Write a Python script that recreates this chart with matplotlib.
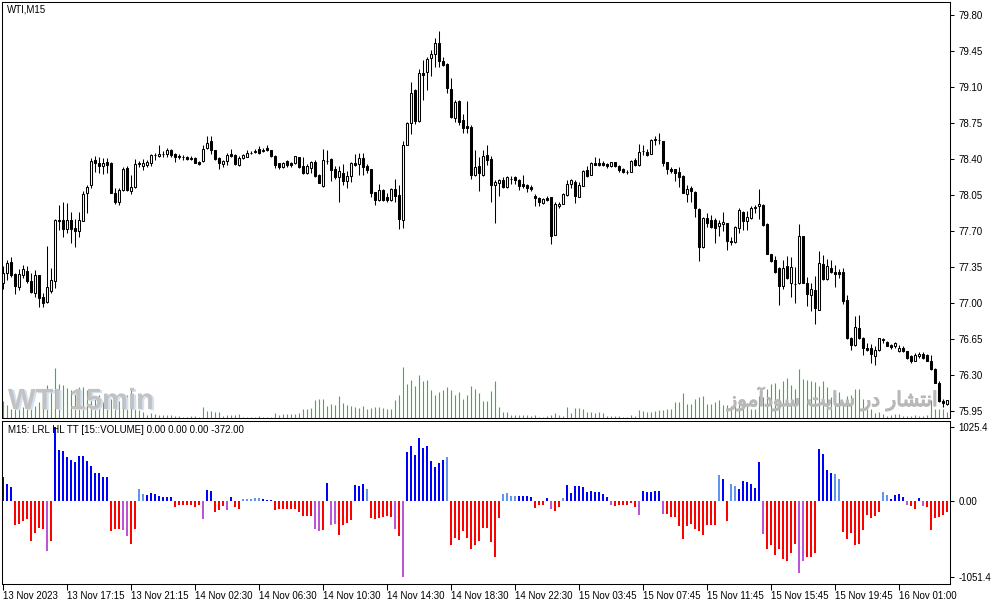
import matplotlib
matplotlib.use('Agg')
import matplotlib.pyplot as plt
import matplotlib.patheffects as pe
from matplotlib.patches import Rectangle
import numpy as np

plt.rcParams['font.family'] = ['Liberation Sans', 'DejaVu Sans']

# ---------------- data ----------------
opens = [77.19,77.29,77.40,77.28,77.16,77.27,77.31,77.21,77.10,77.27,
         77.06,77.01,77.12,77.21,77.81,77.81,77.72,77.81,77.73,77.70,
         77.80,78.07,78.15,78.39,78.36,78.33,78.37,78.36,78.07,77.98,
         78.10,78.31,78.09,78.13,78.35,78.33,78.34,78.36,78.44,78.43,
         78.45,78.45,78.49,78.45,78.43,78.42,78.42,78.41,78.41,78.37,
         78.38,78.51,78.57,78.49,78.41,78.35,78.38,78.45,78.44,78.34,
         78.41,78.42,78.46,78.47,78.50,78.48,78.51,78.49,78.43,78.36,
         78.32,78.38,78.36,78.36,78.42,78.33,78.26,78.31,78.37,78.24,
         78.14,78.38,78.40,78.30,78.22,78.26,78.19,78.23,78.36,78.35,
         78.41,78.33,78.30,78.08,78.00,78.10,78.03,78.00,78.11,78.05,
         77.81,78.54,78.75,79.07,78.77,79.24,79.25,79.38,79.42,79.53,
         79.35,79.32,79.08,78.80,78.96,78.78,78.72,78.71,78.24,78.33,
         78.24,78.44,78.40,78.15,78.17,78.20,78.13,78.21,78.22,78.20,
         78.16,78.15,78.13,78.04,78.02,77.97,78.02,78.03,77.66,77.94,
         77.96,78.05,78.16,78.18,78.03,78.14,78.29,78.24,78.36,78.36,
         78.36,78.35,78.33,78.37,78.33,78.30,78.27,78.27,78.39,78.34,
         78.48,78.47,78.45,78.58,78.58,78.57,78.37,78.30,78.30,78.27,
         78.23,78.06,78.12,78.08,77.91,77.54,77.83,77.81,77.81,77.75,
         77.77,77.78,77.60,77.59,77.73,77.88,77.80,77.83,77.92,77.94,
         77.95,77.77,77.48,77.42,77.34,77.17,77.36,77.19,77.18,77.19,
         77.65,77.19,77.08,77.13,76.93,77.38,77.23,77.34,77.30,77.30,
         77.30,77.03,76.66,76.59,76.76,76.66,76.56,76.56,76.48,76.54,
         76.65,76.62,76.59,76.58,76.53,76.56,76.53,76.48,76.44,76.48,
         76.50,76.49,76.44,76.36,76.22,76.05,76.02]

highs = [77.36,77.42,77.45,77.29,77.33,77.37,77.36,77.29,77.32,77.27,
         77.10,77.55,77.34,77.82,77.95,77.98,77.97,77.88,77.82,77.88,
         78.09,78.15,78.41,78.43,78.42,78.41,78.41,78.37,78.12,78.12,
         78.32,78.33,78.24,78.40,78.38,78.40,78.39,78.45,78.46,78.54,
         78.48,78.51,78.50,78.46,78.45,78.44,78.43,78.43,78.42,78.38,
         78.54,78.62,78.62,78.49,78.42,78.39,78.46,78.50,78.45,78.43,
         78.45,78.49,78.48,78.50,78.53,78.51,78.54,78.49,78.44,78.36,
         78.37,78.39,78.37,78.43,78.42,78.42,78.35,78.38,78.39,78.25,
         78.50,78.49,78.41,78.33,78.33,78.35,78.28,78.37,78.45,78.46,
         78.46,78.35,78.30,78.08,78.16,78.11,78.07,78.12,78.21,78.15,
         78.57,78.76,79.15,79.08,79.27,79.36,79.39,79.46,79.58,79.64,
         79.39,79.33,79.19,78.97,78.97,78.84,78.96,78.73,78.49,78.42,
         78.49,78.54,78.43,78.20,78.21,78.22,78.23,78.23,78.23,78.21,
         78.24,78.16,78.15,78.06,78.03,78.02,78.04,78.03,77.98,77.98,
         78.07,78.20,78.21,78.20,78.18,78.29,78.33,78.37,78.42,78.41,
         78.38,78.36,78.37,78.37,78.34,78.31,78.29,78.39,78.41,78.55,
         78.54,78.50,78.59,78.62,78.65,78.57,78.37,78.32,78.30,78.32,
         78.24,78.15,78.14,78.09,77.92,77.84,77.87,77.86,77.83,77.81,
         77.88,77.78,77.64,77.75,77.92,77.89,77.89,77.94,77.95,78.11,
         77.96,77.78,77.48,77.46,77.35,77.42,77.46,77.45,77.35,77.77,
         77.65,77.25,77.19,77.26,77.51,77.47,77.43,77.42,77.37,77.33,
         77.34,77.08,76.67,76.87,76.88,76.67,76.61,76.60,76.58,76.66,
         76.66,76.63,76.60,76.62,76.59,76.58,76.53,76.49,76.51,76.52,
         76.52,76.50,76.49,76.37,76.24,76.07,76.06]

lows = [77.14,77.22,77.25,77.09,77.13,77.24,77.19,77.10,77.06,76.96,
        76.96,77.00,77.10,77.15,77.71,77.64,77.68,77.58,77.54,77.64,
        77.80,77.87,78.12,78.27,78.26,78.25,78.26,78.07,77.96,77.95,
        78.09,78.09,78.06,78.12,78.32,78.29,78.32,78.33,78.39,78.42,
        78.42,78.42,78.42,78.37,78.40,78.39,78.39,78.39,78.36,78.34,
        78.37,78.50,78.45,78.39,78.30,78.32,78.34,78.42,78.34,78.33,
        78.40,78.42,78.45,78.46,78.45,78.47,78.48,78.42,78.31,78.30,
        78.31,78.32,78.32,78.35,78.31,78.25,78.25,78.26,78.22,78.17,
        78.13,78.35,78.19,78.21,77.98,78.15,78.12,78.18,78.33,78.24,
        78.24,78.26,78.03,77.95,77.99,77.99,77.98,77.99,77.98,77.72,
        77.73,78.54,78.64,78.74,78.76,78.97,79.07,79.21,79.29,79.29,
        79.30,79.04,78.80,78.76,78.73,78.65,78.65,78.21,78.23,78.09,
        78.23,78.34,77.98,77.78,78.04,78.12,78.12,78.16,78.16,78.10,
        78.12,78.08,78.09,77.94,77.94,77.96,77.99,77.57,77.66,77.92,
        77.96,78.04,78.12,77.97,78.03,78.14,78.22,78.24,78.34,78.33,
        78.33,78.31,78.32,78.32,78.27,78.26,78.25,78.27,78.33,78.33,
        78.44,78.43,78.45,78.54,78.55,78.33,78.25,78.26,78.19,78.13,
        78.07,77.98,77.98,77.84,77.41,77.53,77.74,77.73,77.58,77.65,
        77.70,77.52,77.56,77.58,77.68,77.71,77.71,77.82,77.87,77.82,
        77.75,77.48,77.40,77.29,76.98,77.14,77.23,77.06,77.00,77.18,
        77.19,76.97,76.92,76.80,76.93,77.22,77.22,77.29,77.16,77.24,
        76.99,76.65,76.54,76.58,76.65,76.49,76.53,76.42,76.40,76.53,
        76.61,76.58,76.55,76.56,76.52,76.52,76.46,76.42,76.44,76.47,
        76.46,76.44,76.35,76.22,76.04,75.99,76.01]

closes = [77.29,77.39,77.27,77.17,77.28,77.33,77.21,77.11,77.27,77.05,
          77.00,77.16,77.22,77.81,77.80,77.72,77.81,77.72,77.70,77.81,
          78.06,78.13,78.38,78.36,78.33,78.36,78.34,78.07,77.98,78.10,
          78.30,78.10,78.13,78.35,78.36,78.36,78.37,78.44,78.44,78.45,
          78.45,78.49,78.44,78.42,78.42,78.42,78.40,78.40,78.36,78.35,
          78.50,78.56,78.49,78.40,78.36,78.38,78.44,78.43,78.35,78.41,
          78.44,78.46,78.46,78.48,78.46,78.49,78.49,78.43,78.34,78.32,
          78.36,78.34,78.34,78.43,78.32,78.26,78.33,78.37,78.23,78.17,
          78.39,78.38,78.29,78.22,78.28,78.19,78.23,78.36,78.34,78.41,
          78.32,78.29,78.07,78.00,78.10,78.00,78.00,78.11,78.04,77.82,
          78.54,78.75,79.04,78.77,79.24,79.22,79.37,79.42,79.53,79.35,
          79.31,79.09,78.81,78.95,78.76,78.70,78.70,78.24,78.32,78.26,
          78.43,78.39,78.15,78.18,78.20,78.13,78.22,78.21,78.20,78.14,
          78.14,78.12,78.11,78.02,77.98,78.01,78.00,77.65,77.96,77.96,
          78.06,78.16,78.20,78.04,78.15,78.28,78.23,78.36,78.34,78.34,
          78.34,78.33,78.37,78.33,78.29,78.27,78.27,78.38,78.34,78.47,
          78.48,78.44,78.58,78.59,78.58,78.36,78.30,78.28,78.26,78.22,
          78.07,78.11,78.09,77.92,77.54,77.83,77.78,77.74,77.73,77.78,
          77.79,77.60,77.59,77.74,77.90,77.80,77.84,77.92,77.93,77.96,
          77.76,77.48,77.41,77.30,77.17,77.34,77.24,77.35,77.18,77.65,
          77.19,77.09,77.14,76.95,77.39,77.23,77.36,77.30,77.28,77.28,
          77.02,76.66,76.59,76.77,76.66,76.56,76.54,76.50,76.54,76.66,
          76.64,76.58,76.57,76.61,76.56,76.53,76.47,76.44,76.49,76.50,
          76.47,76.44,76.36,76.22,76.05,76.03,76.06]

volumes = [500,380,280,430,430,330,330,760,350,480,
           530,980,780,1500,1030,1000,900,830,800,920,
           920,830,680,580,680,480,580,560,500,500,
           530,680,830,530,230,180,100,160,130,80,
           80,80,80,50,50,40,30,50,50,30,
           330,200,200,180,180,60,100,80,80,110,
           30,30,30,30,50,30,30,30,150,100,
           120,120,120,120,150,260,260,300,530,560,
           560,360,430,400,660,450,400,360,330,310,
           350,280,300,330,330,300,280,280,530,680,
           1530,1010,1130,950,1280,1100,1130,830,700,780,
           830,920,850,700,780,580,700,950,860,760,
           500,500,800,1100,330,180,180,80,80,100,
           80,80,60,100,30,30,60,100,160,80,
           50,330,160,300,300,280,180,180,160,180,
           160,50,50,50,50,30,30,80,50,230,
           210,180,180,210,230,230,280,280,480,480,
           750,430,430,580,630,660,430,430,480,550,
           380,380,360,380,430,530,380,280,280,660,
           630,880,1030,1060,880,1100,1200,1000,880,1480,
           1160,1130,1100,1080,950,1100,930,630,730,780,
           480,660,700,860,860,580,280,260,160,180,
           130,60,100,130,130,60,50,50,80,60,
           60,80,530,280,260,260,180]

osc_values = [332,240,194,-337,-323,-282,-254,-559,-448,-369,
              -392,-697,-559,1025.4,702,693,609,572,540,623,
              623,549,480,383,383,328,328,-420,-383,-383,
              -397,-485,-596,-392,162,102,78,115,102,65,
              51,51,51,-78,-60,-60,-60,-60,-78,-51,
              -249,148,134,-152,-129,-74,-129,51,-83,-111,
              23,23,23,37,37,23,18,18,-125,-106,
              -106,-106,-106,-115,-152,-208,-208,-208,-388,-416,
              -402,245,-337,-323,-466,-337,-305,-268,217,203,
              231,171,-235,-254,-235,-226,-212,-222,-392,-485,
              -1051.4,679,757,633,873,734,757,554,466,526,
              563,605,-614,-512,-536,-416,-508,-660,-614,-554,
              -374,-374,-568,-776,-231,102,115,69,69,65,
              65,65,51,-97,-60,-60,37,-115,-143,-83,
              37,217,106,203,203,189,120,134,120,129,
              97,51,-60,-74,-60,-51,-51,-20,-83,-199,
              134,120,125,143,143,-185,-185,-222,-222,-351,
              -531,-351,-314,-392,-420,-476,-328,-337,-337,356,
              300,-282,231,203,162,272,259,231,175,536,
              -462,-669,-605,-753,-660,-799,-836,-716,-600,-997,
              -836,-780,-780,-720,716,646,425,383,379,300,
              -429,-526,-443,-609,-600,-397,-199,-231,-212,-152,
              120,78,32,78,92,51,-51,-69,-106,37,
              -69,-83,-397,-235,-222,-189,-152]

osc_kinds = ("BBBRRRRRRR" "RVRBBBBBBB" "BBBBBBBRRR" "VVRRLLBBBB" "BBBRRRRRRR"
             "VBBRRRVBRR" "LLLLLBBBRR" "RRRRRRRRVV" "RBVVRRRRBB" "BLRRRRRRVR"
             "VBBBBBBBBB" "BLRRRRRRRR" "RRRRRLLLLB" "BBBRRRBVRR" "LBBBBBBBBB"
             "BBVRRRRRRV" "BBBBBVRRRR" "RRRRRRRRRL" "BRLLBBBBBB" "VRRRRRRRRV"
             "VRRRBBBBLL" "RRRRRRRRRR" "LLBBBBVRRB" "VRRRRRR")

time_labels = ["13 Nov 2023", "13 Nov 17:15", "13 Nov 21:15", "14 Nov 02:30",
               "14 Nov 06:30", "14 Nov 10:30", "14 Nov 14:30", "14 Nov 18:30",
               "14 Nov 22:30", "15 Nov 03:45", "15 Nov 07:45", "15 Nov 11:45",
               "15 Nov 15:45", "15 Nov 19:45", "16 Nov 01:00"]
time_label_bars = [0, 16, 32, 48, 64, 80, 96, 112, 128, 144, 160, 176, 192, 208, 224]

price_ticks = [79.80, 79.45, 79.10, 78.75, 78.40, 78.05, 77.70, 77.35, 77.00,
               76.65, 76.30, 75.95]
osc_ticks = [1025.4, 0.0, -1051.4]
osc_tick_labels = ["1025.4", "0.00", "-1051.4"]

kind_colors = {'B': '#0000ff', 'L': '#6495ed', 'R': '#ff0000', 'V': '#ba55d3'}

# ---------------- figure ----------------
W, H = 991, 605
fig = plt.figure(figsize=(W / 100, H / 100), dpi=100)
fig.patch.set_facecolor('white')

ax = fig.add_axes([2 / W, (H - 418) / H, 948 / W, 416 / H])
ax2 = fig.add_axes([2 / W, (H - 584) / H, 948 / W, 163 / H])

n = len(closes)
x = np.arange(n)
xlim = (-0.25, n - 0.25)
lw = 0.75

# volume (behind candles)
vax = ax.twinx()
vax.vlines(x, 0, volumes, color='#3cb43c', lw=0.8)
vax.set_ylim(0, 416 * 30)
vax.set_yticks([])
vax.set_xlim(*xlim)
vax.set_zorder(0)
ax.set_zorder(1)
ax.patch.set_visible(False)
for s in vax.spines.values():
    s.set_visible(False)

# candles
bw = 0.5
ax.vlines(x, lows, highs, color='black', lw=lw, zorder=2)
for i in range(n):
    o, c = opens[i], closes[i]
    if c > o:
        ax.add_patch(Rectangle((i - bw / 2, o), bw, c - o, facecolor='white',
                               edgecolor='black', lw=lw, zorder=3))
    elif c < o:
        ax.add_patch(Rectangle((i - bw / 2, c), bw, o - c, facecolor='black',
                               edgecolor='black', lw=lw, zorder=3))
    else:
        ax.hlines(o, i - bw / 2 - 0.1, i + bw / 2 + 0.1, color='black', lw=lw, zorder=3)

ax.set_xlim(*xlim)
ax.set_ylim(75.882, 79.926)
ax.set_xticks([])
ax.yaxis.tick_right()
ax.set_yticks(price_ticks)
ax.set_yticklabels([f"{v:.2f}" for v in price_ticks])
ax.tick_params(axis='y', length=3, width=lw, pad=3, labelsize=7, colors='black')
for s in ax.spines.values():
    s.set_linewidth(lw)

ax.text(5 / 948, 1 - 8 / 416, "WTI,M15", transform=ax.transAxes, fontsize=7,
        va='center', ha='left', color='black', zorder=5)

# watermarks
ax.text(6 / 948, 9 / 416, "WTI 15min", transform=ax.transAxes, fontsize=21,
        fontweight='bold', color='#c2c2c2', va='baseline', ha='left', zorder=4,
        path_effects=[pe.withSimplePatchShadow(offset=(1.5, -0.8),
                                               shadow_rgbFace='#d2e0f2', alpha=1.0)])
persian = ("\uFEAF\uFEEE\uFEE3\uFE81\uFEA9\uFEEE\uFEB3 \uFE96\uFEF3\uFE8E\uFEB3 "
           "\uFEAD\uFEA9 \uFEAD\uFE8E\uFEB8\uFE98\uFEE7\uFE8D")
ax.text(936 / 948, 12 / 416, persian, transform=ax.transAxes, fontsize=14.5,
        family='DejaVu Sans', color='#b8b8b8', va='baseline', ha='right', zorder=4,
        path_effects=[pe.withStroke(linewidth=0.9, foreground='#b8b8b8')])

# oscillator
bar_colors = [kind_colors[k] for k in osc_kinds]
ax2.bar(x, osc_values, width=0.7, color=bar_colors, linewidth=0)
ax2.set_xlim(*xlim)
ax2.set_ylim(-1148.4, 1108.5)
ax2.yaxis.tick_right()
ax2.set_yticks(osc_ticks)
ax2.set_yticklabels(osc_tick_labels)
ax2.tick_params(axis='y', length=3, width=lw, pad=3, labelsize=7)
ax2.set_xticks(time_label_bars)
ax2.set_xticklabels(time_labels, ha='left')
ax2.tick_params(axis='x', length=4, width=lw, pad=1, labelsize=7)
for s in ax2.spines.values():
    s.set_linewidth(lw)

ax2.text(6 / 948, 1 - 9 / 163, "M15: LRL HL TT [15::VOLUME] 0.00 0.00 0.00 -372.00",
         transform=ax2.transAxes, fontsize=7, va='center', ha='left', color='black')

fig.savefig('out.png', dpi=100, facecolor='white')
